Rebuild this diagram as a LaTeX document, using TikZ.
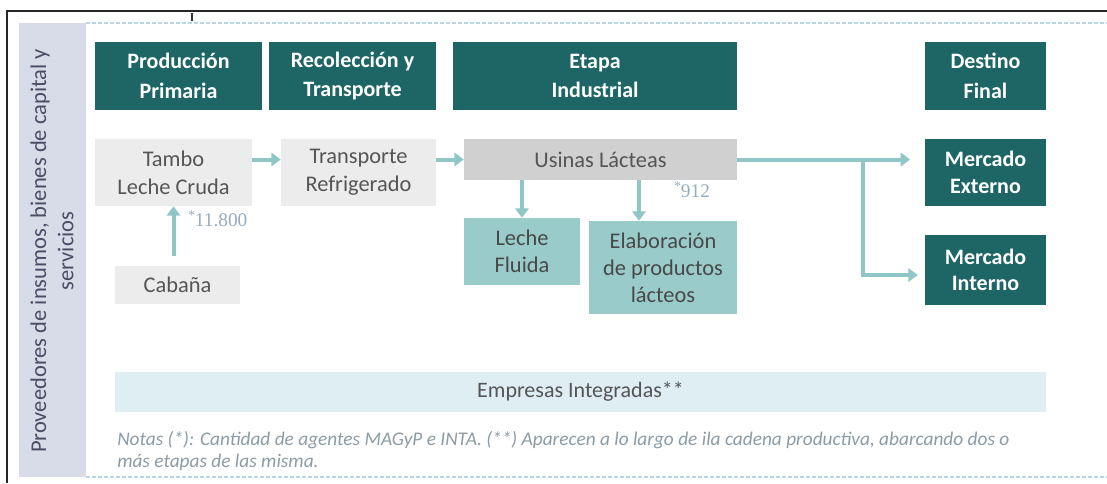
\documentclass[tikz,border=0pt]{standalone}
\usepackage{fontspec}
\setmainfont{Carlito}
\newfontfamily\numfont{Liberation Serif}
\usetikzlibrary{arrows.meta}
\definecolor{hdr}{RGB}{30,102,102}
\definecolor{band}{RGB}{216,219,232}
\definecolor{lgrey}{RGB}{236,236,236}
\definecolor{mgrey}{RGB}{208,208,208}
\definecolor{lteal}{RGB}{154,203,203}
\definecolor{arrc}{RGB}{143,198,198}
\definecolor{integ}{RGB}{222,238,242}
\definecolor{txtg}{RGB}{85,85,85}
\definecolor{notec}{RGB}{140,155,165}
\definecolor{labc}{RGB}{150,172,188}
\definecolor{dotc}{RGB}{185,215,232}
\tikzset{
  bw/.style={minimum width=#1*0.75pt},
  bh/.style={minimum height=#1*0.75pt},
  base/.style={inner sep=0pt, align=center},
  hdrbox/.style={base, fill=hdr, text=white, font=\bfseries\fontsize{16.5}{22}\selectfont},
  greybox/.style={base, fill=lgrey, text=txtg, font=\fontsize{16.8}{21}\selectfont},
  usbox/.style={base, fill=mgrey, text=txtg, font=\fontsize{16.8}{21}\selectfont},
  tealbox/.style={base, fill=lteal, text=txtg!85!black, font=\fontsize{16.8}{20.3}\selectfont},
  mktbox/.style={base, fill=hdr, text=white, font=\bfseries\fontsize{16.5}{20}\selectfont},
  arr/.style={draw=arrc, line width=3pt, -{Triangle[width=10pt,length=7pt]}},
  lab/.style={inner sep=0pt, text=labc, font=\numfont\fontsize{14.5}{16}\selectfont},
}
\begin{document}
\begin{tikzpicture}[x=0.75pt,y=-0.75pt]
\useasboundingbox (0,0) rectangle (1107,483);
% frame
\draw[line width=1.5pt, black!85] (7,483) -- (7,11) -- (1107,11);
\draw[line width=2.2pt, black!80] (192,13) -- (192,21);
% left band
\fill[band] (19,23) rectangle (86,477);
\node[rotate=90, align=center, text=txtg!90!blue, font=\fontsize{16.9}{20.5}\selectfont] (prov) at (52,251)
  {Proveedores de insumos, bienes de capital y\\servicios};
% dotted lines
\draw[dotc, line width=1pt, dash pattern=on 3pt off 1.5pt] (86,23) -- (1107,23);
\draw[dotc, line width=1pt, dash pattern=on 3pt off 1.5pt] (86,477) -- (1107,477);
% headers
\node[hdrbox, bw=167, bh=68] (h1) at (178.5,76) {Producción\\Primaria};
\node[hdrbox, bw=167, bh=68] (h2) at (352.5,76) {Recolección y\\Transporte};
\node[hdrbox, bw=284, bh=68] (h3) at (595,76) {Etapa\\Industrial};
\node[hdrbox, bw=121, bh=68] (h4) at (985.5,76) {Destino\\Final};
% boxes
\node[greybox, bw=157, bh=67] (tambo) at (173.5,172.5) {Tambo\\Leche Cruda};
\node[greybox, bw=155, bh=67] (transp) at (358.5,172.5) {Transporte\\Refrigerado};
\node[greybox, bw=125, bh=38] (cab) at (177.5,285) {Cabaña};
\node[usbox, bw=273, bh=41] (usinas) at (600.5,159.5) {Usinas Lácteas};
\node[tealbox, bw=116, bh=67] (lf) at (522,251.5) {Leche\\Fluida};
\node[tealbox, bw=148, bh=93] (elab) at (663,267.5) {Elaboración\\de productos\\lácteos};
\node[mktbox, bw=121, bh=67] (mext) at (985.5,172.5) {Mercado\\Externo};
\node[mktbox, bw=121, bh=70] (mint) at (985.5,270) {Mercado\\Interno};
% integradas band
\node[base, fill=integ, text=txtg, bw=931, bh=40, font=\fontsize{16.5}{20}\selectfont] (integ) at (580.5,392)
  {Empresas Integradas**};
% notes
\node[anchor=north west, inner sep=0pt, align=left, text=notec, font=\itshape\fontsize{14.5}{16.5}\selectfont] (notes) at (117,431)
  {Notas (*): Cantidad de agentes MAGyP e INTA. (**) Aparecen a lo largo de ila cadena productiva, abarcando dos o\\más etapas de las misma.};
% labels
\node[lab, anchor=west] (l1) at (188,219) {\raisebox{0.35em}{\fontsize{10}{10}\selectfont *}11.800};
\node[lab, anchor=west] (l2) at (674,190) {\raisebox{0.35em}{\fontsize{10}{10}\selectfont *}912};
% arrows
\draw[arr] (tambo.east |- usinas.center) -- (transp.west |- usinas.center);
\draw[arr] (transp.east |- usinas.center) -- (usinas.west);
\draw[arr, shorten <=7.5pt] (tambo.south |- cab.north) -- (tambo.south);
\draw[arr] (lf.north |- usinas.south) -- (lf.north);
\coordinate (e1) at ([xshift=-18pt]elab.north);
\draw[arr] (e1 |- usinas.south) -- (e1);
\coordinate (mx) at ([xshift=-11pt]mext.west |- usinas.east);
\draw[arr] (usinas.east) -- (mx);
\coordinate (br) at (863,159.5);
\coordinate (mi) at ([shift={(-7,5)}]mint.west);
\draw[arr] (br) |- (mi);
\end{tikzpicture}
\end{document}
